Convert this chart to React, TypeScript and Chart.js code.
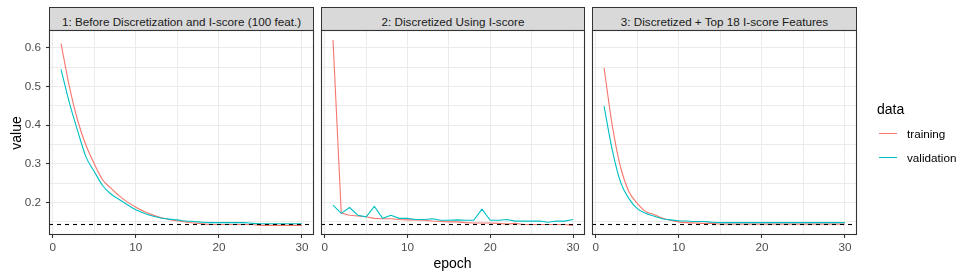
import React, { useEffect, useRef } from "react";
import { Chart, registerables } from "chart.js";

Chart.register(...registerables);

// ---------------- data ----------------
const EPOCHS = [1, 2, 3, 4, 5, 6, 7, 8, 9, 10, 11, 12, 13, 14, 15, 16, 17, 18, 19, 20, 21, 22, 23, 24, 25, 26, 27, 28, 29, 30];

const PANEL_TITLES = [
  "1: Before Discretization and I-score (100 feat.)",
  "2: Discretized Using I-score",
  "3: Discretized + Top 18 I-score Features",
];

const SERIES_NAMES = ["training", "validation"];

const P1_TRAINING = [0.611, 0.5, 0.412, 0.348, 0.3, 0.259, 0.237, 0.217, 0.201, 0.188, 0.177, 0.168, 0.161, 0.156, 0.153, 0.15, 0.147, 0.145, 0.143, 0.143, 0.143, 0.143, 0.143, 0.143, 0.141, 0.141, 0.141, 0.141, 0.141, 0.141];
const P1_VALIDATION = [0.544, 0.458, 0.385, 0.318, 0.28, 0.244, 0.222, 0.208, 0.194, 0.181, 0.172, 0.165, 0.16, 0.157, 0.155, 0.152, 0.151, 0.149, 0.148, 0.148, 0.148, 0.148, 0.148, 0.146, 0.145, 0.145, 0.145, 0.145, 0.145, 0.145];

const P2_TRAINING = [0.62, 0.173, 0.167, 0.165, 0.163, 0.159, 0.158, 0.158, 0.156, 0.155, 0.155, 0.154, 0.152, 0.151, 0.15, 0.15, 0.148, 0.147, 0.147, 0.147, 0.146, 0.144, 0.146, 0.143, 0.143, 0.143, 0.143, 0.143, 0.143, 0.141];
const P2_VALIDATION = [0.193, 0.172, 0.187, 0.167, 0.163, 0.19, 0.159, 0.167, 0.159, 0.159, 0.156, 0.156, 0.158, 0.154, 0.154, 0.155, 0.154, 0.154, 0.183, 0.154, 0.154, 0.156, 0.152, 0.152, 0.152, 0.152, 0.149, 0.152, 0.152, 0.156];

const P3_TRAINING = [0.548, 0.398, 0.29, 0.228, 0.198, 0.177, 0.169, 0.16, 0.154, 0.15, 0.148, 0.147, 0.146, 0.146, 0.144, 0.144, 0.144, 0.144, 0.144, 0.144, 0.144, 0.144, 0.144, 0.144, 0.144, 0.144, 0.144, 0.144, 0.144, 0.144];
const P3_VALIDATION = [0.449, 0.335, 0.252, 0.21, 0.184, 0.172, 0.165, 0.158, 0.155, 0.153, 0.152, 0.151, 0.151, 0.149, 0.148, 0.148, 0.148, 0.148, 0.148, 0.148, 0.148, 0.148, 0.148, 0.148, 0.148, 0.148, 0.148, 0.148, 0.148, 0.148];

const BASELINE = 0.1457;

const X_MAJOR = [0, 10, 20, 30];
const X_MINOR = [5, 15, 25];
const Y_MAJOR = [0.2, 0.3, 0.4, 0.5, 0.6];
const Y_MINOR = [0.15, 0.25, 0.35, 0.45, 0.55];

const X_RANGE = [-0.45, 31.45];
const Y_RANGE = [0.116, 0.646];

const SERIES_COLORS = ["#F8766D", "#00BFC4"];

const PANEL_DATA = [
  [P1_TRAINING, P1_VALIDATION],
  [P2_TRAINING, P2_VALIDATION],
  [P3_TRAINING, P3_VALIDATION],
];
const PANEL_SMOOTH = [true, false, true];

// ---------------- layout ----------------
const W = 974;
const H = 279;
const PANEL_BOXES = [
  { left: 49, right: 314 },
  { left: 321, right: 585 },
  { left: 592, right: 857 },
];
const PANEL_TOP = 30;
const PANEL_BOTTOM = 235;
const STRIP_TOP = 7;
const X_AXIS_H = 25;
const FONT = "'Liberation Sans', Arial, Helvetica, sans-serif";

const isIn = (arr: number[], v: number) => arr.some((a) => Math.abs(a - v) < 1e-9);

const panelDecor = {
  id: "panelDecor",
  afterDatasetsDraw(chart: any) {
    const { ctx, chartArea: a, scales } = chart;
    const yy = Math.round(scales.y.getPixelForValue(BASELINE)) + 0.5;
    ctx.save();
    ctx.beginPath();
    ctx.rect(a.left, a.top, a.right - a.left, a.bottom - a.top);
    ctx.clip();
    ctx.setLineDash([4, 4]);
    ctx.strokeStyle = "#000000";
    ctx.lineWidth = 1.1;
    ctx.beginPath();
    ctx.moveTo(a.left, yy);
    ctx.lineTo(a.right, yy);
    ctx.stroke();
    ctx.restore();
    ctx.save();
    ctx.strokeStyle = "#333333";
    ctx.lineWidth = 1.1;
    ctx.strokeRect(a.left + 0.5, a.top + 0.5, a.right - a.left - 1, a.bottom - a.top - 1);
    ctx.restore();
  },
};

function Panel({ idx }: { idx: number }) {
  const ref = useRef<HTMLCanvasElement>(null);
  useEffect(() => {
    const box = PANEL_BOXES[idx];
    const first = idx === 0;
    const [train, valid] = PANEL_DATA[idx];
    const smooth = PANEL_SMOOTH[idx];
    const mk = (arr: number[]) => EPOCHS.map((e, i) => ({ x: e, y: arr[i] }));
    const chart = new Chart(ref.current as HTMLCanvasElement, {
      type: "line",
      data: {
        datasets: [
          {
            label: SERIES_NAMES[0],
            data: mk(train),
            borderColor: SERIES_COLORS[0],
            borderWidth: 1.1,
            pointRadius: 0,
            fill: false,
            order: 1,
            cubicInterpolationMode: smooth ? "monotone" : "default",
            tension: 0,
          },
          {
            label: SERIES_NAMES[1],
            data: mk(valid),
            borderColor: SERIES_COLORS[1],
            borderWidth: 1.1,
            pointRadius: 0,
            fill: false,
            order: 0,
            cubicInterpolationMode: smooth ? "monotone" : "default",
            tension: 0,
          },
        ],
      },
      options: {
        animation: false,
        responsive: false,
        devicePixelRatio: 1,
        events: [],
        layout: {
          padding: {
            left: first ? 0 : box.left,
            right: W - box.right,
            top: PANEL_TOP,
            bottom: H - PANEL_BOTTOM - X_AXIS_H,
          },
        },
        plugins: {
          legend: { display: false },
          tooltip: { enabled: false },
          title: { display: false },
        },
        scales: {
          x: {
            type: "linear",
            min: X_RANGE[0],
            max: X_RANGE[1],
            afterBuildTicks: (s: any) => {
              s.ticks = [...X_MAJOR, ...X_MINOR].sort((a, b) => a - b).map((v) => ({ value: v }));
            },
            afterFit: (s: any) => {
              s.height = X_AXIS_H;
            },
            border: { display: false },
            grid: {
              color: "#EBEBEB",
              lineWidth: 1,
              drawTicks: true,
              tickLength: 3,
              tickWidth: 1.1,
              tickColor: (c: any) => (isIn(X_MAJOR, c.tick.value) ? "#333333" : "rgba(0,0,0,0)"),
            },
            ticks: {
              autoSkip: false,
              maxRotation: 0,
              padding: 3,
              color: "#4D4D4D",
              font: { family: FONT, size: 11.7 },
              callback: (v: any) => (isIn(X_MAJOR, Number(v)) ? String(v) : ""),
            },
          },
          y: {
            type: "linear",
            min: Y_RANGE[0],
            max: Y_RANGE[1],
            afterBuildTicks: (s: any) => {
              s.ticks = [...Y_MAJOR, ...Y_MINOR].sort((a, b) => a - b).map((v) => ({ value: v }));
            },
            afterFit: (s: any) => {
              s.width = first ? box.left : 0;
            },
            border: { display: false },
            grid: {
              color: "#EBEBEB",
              lineWidth: 1,
              drawTicks: first,
              tickLength: 3,
              tickWidth: 1.1,
              tickColor: (c: any) => (isIn(Y_MAJOR, c.tick.value) ? "#333333" : "rgba(0,0,0,0)"),
            },
            ticks: {
              display: first,
              autoSkip: false,
              padding: 5,
              color: "#4D4D4D",
              font: { family: FONT, size: 11.7 },
              callback: (v: any) => (isIn(Y_MAJOR, Number(v)) ? Number(v).toFixed(1) : ""),
            },
          },
        },
      },
      plugins: [panelDecor],
    } as any);
    return () => chart.destroy();
  }, [idx]);
  return (
    <canvas
      ref={ref}
      width={W}
      height={H}
      style={{ position: "absolute", left: 0, top: 0, width: W, height: H }}
    />
  );
}

export default function App() {
  const abs = (o: React.CSSProperties): React.CSSProperties => ({ position: "absolute", ...o });
  return (
    <div style={{ position: "absolute", left: 0, top: 0, width: W, height: H, background: "#FFFFFF", fontFamily: FONT, overflow: "hidden" }}>
      {PANEL_BOXES.map((b, i) => (
        <div
          key={"strip" + i}
          style={abs({
            left: b.left,
            top: STRIP_TOP,
            width: b.right - b.left,
            height: PANEL_TOP - STRIP_TOP + 1,
            boxSizing: "border-box",
            border: "1.1px solid #333333",
            background: "#D9D9D9",
          })}
        >
          <div
            style={abs({
              left: 0,
              right: 0,
              top: 8,
              textAlign: "center",
              fontSize: 11.7,
              lineHeight: "11.7px",
              color: "#1A1A1A",
              whiteSpace: "nowrap",
            })}
          >
            {PANEL_TITLES[i]}
          </div>
        </div>
      ))}
      {PANEL_BOXES.map((_, i) => (
        <Panel key={"panel" + i} idx={i} />
      ))}
      <div
        style={abs({
          left: 16 - 30,
          top: 132.5 - 7,
          width: 60,
          height: 14,
          fontSize: 14,
          lineHeight: "14px",
          textAlign: "center",
          color: "#000",
          transform: "rotate(-90deg)",
          transformOrigin: "50% 50%",
        })}
      >
        value
      </div>
      <div
        style={abs({
          left: 452.5 - 40,
          top: 256.4,
          width: 80,
          fontSize: 14,
          lineHeight: "14px",
          textAlign: "center",
          color: "#000",
        })}
      >
        epoch
      </div>
      <div style={abs({ left: 877, top: 101.5, fontSize: 14, lineHeight: "14px", color: "#000" })}>data</div>
      {SERIES_NAMES.map((n, i) => (
        <React.Fragment key={n}>
          <div
            style={abs({
              left: 879,
              top: i === 0 ? 133 : 157,
              width: 18,
              height: 0,
              borderTop: "1px solid " + SERIES_COLORS[i],
            })}
          />
          <div
            style={abs({
              left: 907,
              top: i === 0 ? 128.4 : 151.8,
              fontSize: 11.7,
              lineHeight: "11.7px",
              color: "#000",
              whiteSpace: "nowrap",
            })}
          >
            {n}
          </div>
        </React.Fragment>
      ))}
    </div>
  );
}
